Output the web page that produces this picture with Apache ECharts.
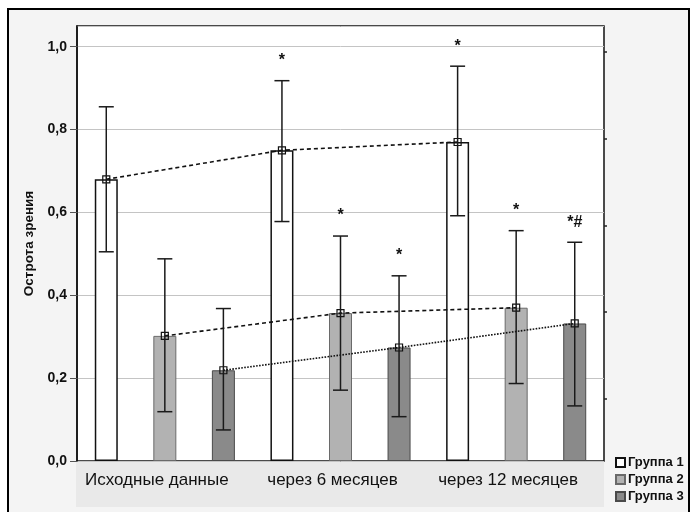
<!DOCTYPE html>
<html><head><meta charset="utf-8">
<script src="https://cdn.jsdelivr.net/npm/echarts@6/dist/echarts.min.js"></script>
<style>html,body{margin:0;padding:0;background:#fff}#c{width:691px;height:512px}</style>
</head><body><div id="c"></div>
<script>
const categories = ['Исходные данные', 'через 6 месяцев', 'через 12 месяцев'];
const groupNames = ['Группа 1', 'Группа 2', 'Группа 3'];
const group1Mean = [0.68, 0.75, 0.77];
const group1Low = [0.505, 0.578, 0.592];
const group1High = [0.855, 0.918, 0.953];
const group2Mean = [0.302, 0.357, 0.370];
const group2Low = [0.119, 0.171, 0.187];
const group2High = [0.488, 0.543, 0.556];
const group3Mean = [0.219, 0.274, 0.332];
const group3Low = [0.075, 0.107, 0.133];
const group3High = [0.368, 0.447, 0.528];
const group1Marks = ['', '*', '*'];
const group2Marks = ['', '*', '*'];
const group3Marks = ['', '*', '*#'];
const rightTickValues = [0.15, 0.36, 0.569, 0.778, 0.989];

const means = [group1Mean, group2Mean, group3Mean];
const lows = [group1Low, group2Low, group3Low];
const highs = [group1High, group2High, group3High];
const marks = [group1Marks, group2Marks, group3Marks];
const nG = groupNames.length;
const slot = (ci, g) => ci * nG + g + 0.5;

const FONT = '"Liberation Sans", Arial, sans-serif';
const barStyles = [
  {color: '#ffffff', borderColor: '#111', borderWidth: 1.5},
  {color: '#b2b2b2', borderColor: '#6a6a6a', borderWidth: 1},
  {color: '#8a8a8a', borderColor: '#4a4a4a', borderWidth: 1}
];
const lineTypes = [[4, 3], [4, 3], [1.6, 1.4]];

const series = [];
for (let g = 0; g < nG; g++) {
  series.push({
    name: groupNames[g], type: 'bar', xAxisIndex: 1, yAxisIndex: 0,
    barWidth: 23, barGap: '-100%',
    itemStyle: barStyles[g],
    data: means[g].map((v, i) => [slot(i, g), v]),
    z: 2
  });
}
for (let g = 0; g < nG; g++) {
  series.push({
    name: 'trend' + (g + 1), type: 'line', xAxisIndex: 1, yAxisIndex: 0,
    data: means[g].map((v, i) => [slot(i, g), v]),
    symbol: 'rect', symbolSize: 7,
    lineStyle: {color: '#111', width: 1.6, type: lineTypes[g]},
    itemStyle: {color: 'rgba(0,0,0,0)', borderColor: '#111', borderWidth: 1.2},
    z: 4, silent: true
  });
  series.push({
    name: 'err' + (g + 1), type: 'custom', xAxisIndex: 1, yAxisIndex: 0,
    data: means[g].map((v, i) => [slot(i, g), lows[g][i], highs[g][i]]),
    encode: {x: 0, y: [1, 2]},
    renderItem: function (params, api) {
      const lo = api.coord([api.value(0), api.value(1)]);
      const hi = api.coord([api.value(0), api.value(2)]);
      const w = 7.5;
      const st = {stroke: '#1a1a1a', lineWidth: 1.5};
      return {type: 'group', children: [
        {type: 'line', shape: {x1: lo[0], y1: lo[1], x2: hi[0], y2: hi[1]}, style: st},
        {type: 'line', shape: {x1: lo[0] - w, y1: lo[1], x2: lo[0] + w, y2: lo[1]}, style: st},
        {type: 'line', shape: {x1: hi[0] - w, y1: hi[1], x2: hi[0] + w, y2: hi[1]}, style: st}
      ]};
    },
    z: 5, silent: true
  });
  series.push({
    name: 'mark' + (g + 1), type: 'custom', xAxisIndex: 1, yAxisIndex: 0,
    data: highs[g].map((v, i) => [slot(i, g), v, marks[g][i]]),
    encode: {x: 0, y: 1},
    renderItem: function (params, api) {
      const t = marks[g][params.dataIndex];
      if (!t) return null;
      const p = api.coord([api.value(0), api.value(1)]);
      return {type: 'text', style: {text: t, x: p[0], y: p[1] - 20, align: 'center', verticalAlign: 'middle',
        font: 'bold 16px ' + FONT, fill: '#111'}};
    },
    z: 6, silent: true
  });
}

const chart = echarts.init(document.getElementById('c'), null, {renderer: 'canvas'});
chart.setOption({
  animation: false,
  backgroundColor: '#ffffff',
  graphic: [
    {type: 'rect', shape: {x: 8, y: 9, width: 681, height: 520}, style: {fill: '#f4f4f4', stroke: '#000', lineWidth: 2}, z: -10},
    {type: 'rect', shape: {x: 76, y: 461, width: 528, height: 46}, style: {fill: '#e9e9e9'}, z: -9}
  ],
  grid: {left: 77, right: 87, top: 26, bottom: 51, show: true, backgroundColor: '#ffffff', borderColor: '#111', borderWidth: 1.5},
  legend: {
    data: groupNames, orient: 'vertical', left: 610, top: 451,
    icon: 'rect', itemWidth: 9, itemHeight: 9, itemGap: 4,
    textStyle: {fontFamily: FONT, fontSize: 13, fontWeight: 'bold', color: '#111', padding: [0, 0, 0, -2]},
    selectedMode: false
  },
  xAxis: [
    {type: 'category', data: categories, position: 'bottom', boundaryGap: true,
     axisLine: {show: false}, axisTick: {show: false}, splitLine: {show: false},
     axisLabel: {interval: 0, hideOverlap: false, fontFamily: FONT, fontSize: 17, color: '#111', margin: 11, padding: [0, 16, 0, 0]}},
    {type: 'value', min: 0, max: categories.length * nG, show: false}
  ],
  yAxis: [
    {type: 'value', min: 0, max: 1.05, interval: 0.2, position: 'left',
     name: 'Острота зрения', nameLocation: 'middle', nameGap: 35,
     nameTextStyle: {fontFamily: FONT, fontSize: 13.5, fontWeight: 'bold', color: '#111'},
     axisLine: {show: true, lineStyle: {color: '#111', width: 1.5}},
     axisTick: {show: true, inside: false, length: 7, lineStyle: {color: '#555'}},
     axisLabel: {fontFamily: FONT, fontSize: 14, fontWeight: 'bold', color: '#111', margin: 10, showMaxLabel: false,
       formatter: v => v.toFixed(1).replace('.', ',')},
     splitLine: {show: true, lineStyle: {color: '#c4c4c4', width: 1}}},
    {type: 'value', min: 0, max: 1.05, position: 'right',
     axisLine: {show: false}, axisLabel: {show: false}, splitLine: {show: false},
     axisTick: {show: true, inside: false, length: 3, customValues: rightTickValues, lineStyle: {color: '#222', width: 1.5}}}
  ],
  series: series
});
</script></body></html>
